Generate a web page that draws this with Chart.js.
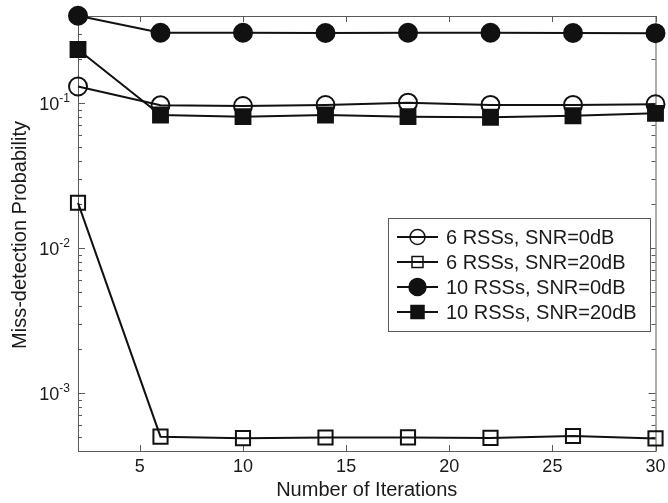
<!DOCTYPE html>
<html>
<head>
<meta charset="utf-8">
<script src="https://cdn.jsdelivr.net/npm/chart.js@4.4.1/dist/chart.umd.min.js"></script>
<style>
  body { margin: 0; background: #fff; }
  #wrap { width: 668px; height: 503px; }
</style>
</head>
<body>
<div id="wrap"><canvas id="missChart" width="668" height="503"></canvas></div>
<script>
// iterations on the x axis
const iterations = [2, 6, 10, 14, 18, 22, 26, 30];

// miss-detection probability per configuration
const rss6Snr0 = [0.130, 0.0964, 0.0953, 0.0969, 0.1005, 0.097, 0.097, 0.098];
const rss6Snr20 = [0.0205, 5.0e-4, 4.88e-4, 4.93e-4, 4.94e-4, 4.90e-4, 5.05e-4, 4.86e-4];
const rss10Snr0 = [0.40, 0.305, 0.305, 0.304, 0.305, 0.305, 0.304, 0.303];
const rss10Snr20 = [0.234, 0.0826, 0.0805, 0.0826, 0.0805, 0.0797, 0.0817, 0.0849];

const seriesLabels = ['6 RSSs, SNR=0dB', '6 RSSs, SNR=20dB', '10 RSSs, SNR=0dB', '10 RSSs, SNR=20dB'];

const xTicks = [5, 10, 15, 20, 25, 30];
const yTicks = [1e-3, 1e-2, 1e-1];
const yTickExponents = ['-3', '-2', '-1'];

const xTitle = 'Number of Iterations';
const yTitle = 'Miss-detection Probability';

const FONT = '"Liberation Sans", Arial, Helvetica, sans-serif';
const INK = '#111';
const FRAME = '#5a5a5a';

function toPoints(values) {
    return values.map((v, i) => ({ x: iterations[i], y: v }));
}

function series(label, values, style, filled, radius, order) {
    return {
        label: label,
        data: toPoints(values),
        borderColor: INK,
        borderWidth: 2,
        pointStyle: style,
        pointRadius: radius,
        pointHoverRadius: radius,
        pointBorderWidth: 2,
        pointBorderColor: INK,
        pointBackgroundColor: filled ? INK : 'rgba(0,0,0,0)',
        tension: 0,
        clip: false,
        order: order
    };
}

// axes frame, inward ticks, tick labels and titles
const axesPlugin = {
    id: 'axesFrame',
    beforeDatasetsDraw(chart) {
        const { ctx, chartArea: a, scales } = chart;
        const xs = scales.x, ys = scales.y;
        ctx.save();
        ctx.strokeStyle = FRAME;
        ctx.lineWidth = 1;
        ctx.strokeRect(a.left + 0.5, a.top + 0.5, a.right - a.left, a.bottom - a.top);

        ctx.beginPath();
        xTicks.forEach(v => {
            const px = Math.round(xs.getPixelForValue(v)) + 0.5;
            ctx.moveTo(px, a.bottom); ctx.lineTo(px, a.bottom - 6);
            ctx.moveTo(px, a.top); ctx.lineTo(px, a.top + 6);
        });
        // log ticks: decades long, 2..9 short
        for (let k = -4; k <= 0; k++) {
            for (let m = 1; m <= 9; m++) {
                const v = m * Math.pow(10, k);
                if (v < ys.min || v > ys.max) continue;
                const len = m === 1 ? 7 : 4;
                const py = Math.round(ys.getPixelForValue(v)) + 0.5;
                ctx.moveTo(a.left, py); ctx.lineTo(a.left + len, py);
                ctx.moveTo(a.right, py); ctx.lineTo(a.right - len, py);
            }
        }
        ctx.stroke();
        ctx.restore();
    },
    afterDraw(chart) {
        const { ctx, chartArea: a, scales } = chart;
        const xs = scales.x, ys = scales.y;
        ctx.save();
        ctx.fillStyle = '#1a1a1a';

        ctx.font = '18px ' + FONT;
        ctx.textAlign = 'center';
        ctx.textBaseline = 'top';
        xTicks.forEach(v => {
            ctx.fillText(String(v), xs.getPixelForValue(v), a.bottom + 7);
        });

        yTicks.forEach((v, i) => {
            const py = ys.getPixelForValue(v);
            ctx.font = '12px ' + FONT;
            const expW = ctx.measureText(yTickExponents[i]).width;
            const right = a.left - 8;
            ctx.textAlign = 'left';
            ctx.textBaseline = 'alphabetic';
            ctx.fillText(yTickExponents[i], right - expW, py - 1);
            ctx.font = '18px ' + FONT;
            ctx.textAlign = 'right';
            ctx.fillText('10', right - expW, py + 7);
        });

        ctx.font = '20px ' + FONT;
        ctx.textAlign = 'center';
        ctx.textBaseline = 'middle';
        ctx.fillText(xTitle, (a.left + a.right) / 2, 490);

        ctx.translate(20, 235);
        ctx.rotate(-Math.PI / 2);
        ctx.fillText(yTitle, 0, 0);
        ctx.restore();
    }
};

// boxed legend inside the plot area
const legendPlugin = {
    id: 'boxLegend',
    afterDatasetsDraw(chart) {
        const ctx = chart.ctx;
        const box = { left: 388, top: 218, right: 650, bottom: 331 };
        ctx.save();
        ctx.fillStyle = '#fff';
        ctx.fillRect(box.left, box.top, box.right - box.left, box.bottom - box.top);
        ctx.strokeStyle = FRAME;
        ctx.lineWidth = 1;
        ctx.strokeRect(box.left + 0.5, box.top + 0.5, box.right - box.left, box.bottom - box.top);

        chart.data.datasets.forEach((ds, i) => {
            const y = 237 + 25 * i;
            ctx.strokeStyle = ds.borderColor;
            ctx.lineWidth = ds.borderWidth;
            ctx.beginPath();
            ctx.moveTo(397, y); ctx.lineTo(438, y);
            ctx.stroke();

            const cx = 417.5;
            const filled = ds.pointBackgroundColor !== 'rgba(0,0,0,0)';
            ctx.beginPath();
            if (ds.pointStyle === 'circle') {
                ctx.arc(cx, y, filled ? 8.5 : 7.5, 0, Math.PI * 2);
            } else {
                const h = filled ? 6.5 : 5.5;
                ctx.rect(cx - h, y - h, 2 * h, 2 * h);
            }
            if (filled) { ctx.fillStyle = INK; ctx.fill(); }
            ctx.lineWidth = 1.5;
            ctx.strokeStyle = INK;
            ctx.stroke();

            ctx.fillStyle = '#1a1a1a';
            ctx.font = '20px ' + FONT;
            ctx.textAlign = 'left';
            ctx.textBaseline = 'middle';
            ctx.fillText(ds.label, 446, y + 1);
        });
        ctx.restore();
    }
};

new Chart(document.getElementById('missChart'), {
    type: 'line',
    data: {
        datasets: [
            series(seriesLabels[0], rss6Snr0, 'circle', false, 9, 3),
            series(seriesLabels[1], rss6Snr20, 'rect', false, 10, 2),
            series(seriesLabels[2], rss10Snr0, 'circle', true, 9, 1),
            series(seriesLabels[3], rss10Snr20, 'rect', true, 10.5, 0)
        ]
    },
    options: {
        responsive: false,
        animation: false,
        devicePixelRatio: 1,
        layout: { padding: { left: 78, right: 11, top: 16, bottom: 52 } },
        scales: {
            x: { type: 'linear', min: 2, max: 30, display: false },
            y: { type: 'logarithmic', min: Math.pow(10, -3.4), max: Math.pow(10, -0.4), display: false }
        },
        plugins: {
            legend: { display: false },
            tooltip: { enabled: false }
        }
    },
    plugins: [axesPlugin, legendPlugin]
});
</script>
</body>
</html>
